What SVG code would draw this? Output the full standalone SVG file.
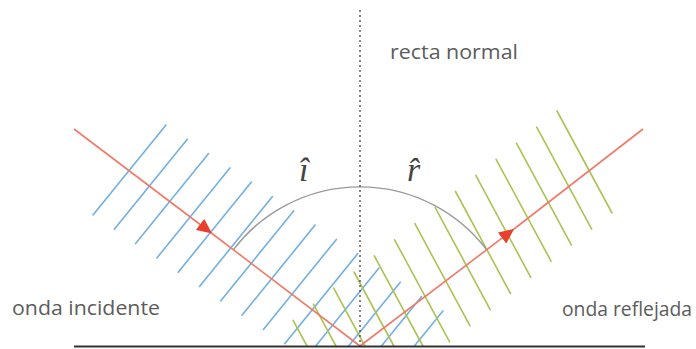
<svg xmlns="http://www.w3.org/2000/svg" width="696" height="349" viewBox="0 0 696 349">
<style>
.bl{stroke:#72b0e0;stroke-width:1.6;fill:none;stroke-linecap:round}
.gr{stroke:#a9c452;stroke-width:1.6;fill:none;stroke-linecap:round}
.ray{stroke:#f07a68;stroke-width:1.6;fill:none}
.lbl{font-family:"Open Sans","Liberation Sans",sans-serif;font-size:20px;fill:#5c5c5c}
.ang{font-family:"Liberation Serif","DejaVu Serif",serif;font-style:italic;font-size:34px;fill:#444}
</style>
<defs>
<marker id="ah" markerUnits="userSpaceOnUse" markerWidth="16" markerHeight="14" refX="15" refY="7" orient="auto">
<path d="M0,0 L15,7 L0,14 z" fill="#e8402c"/>
</marker>
</defs>
<rect width="696" height="349" fill="#fff"/>
<g id="incident-wave">
<line class="bl" x1="166" y1="125" x2="93" y2="215"/>
<line class="bl" x1="187.3" y1="139.3" x2="114.3" y2="229.3"/>
<line class="bl" x1="208.6" y1="153.6" x2="135.6" y2="243.6"/>
<line class="bl" x1="229.9" y1="167.9" x2="156.9" y2="257.9"/>
<line class="bl" x1="251.2" y1="182.2" x2="178.2" y2="272.2"/>
<line class="bl" x1="272.5" y1="196.5" x2="199.5" y2="286.5"/>
<line class="bl" x1="293.8" y1="210.8" x2="220.8" y2="300.8"/>
<line class="bl" x1="315.1" y1="225.1" x2="242.1" y2="315.1"/>
<line class="bl" x1="336.4" y1="239.4" x2="263.4" y2="329.4"/>
<line class="bl" x1="357.7" y1="253.7" x2="284.7" y2="343.7"/>
<line class="bl" x1="379" y1="268" x2="315.7" y2="346"/>
<line class="bl" x1="400.3" y1="282.3" x2="348.6" y2="346"/>
<line class="bl" x1="421.6" y1="296.6" x2="381.5" y2="346"/>
<line class="bl" x1="442.9" y1="310.9" x2="414.4" y2="346"/>
</g>
<g id="reflected-wave">
<line class="gr" x1="557" y1="111" x2="612" y2="213"/>
<line class="gr" x1="536.7" y1="127.1" x2="591.7" y2="229.1"/>
<line class="gr" x1="516.4" y1="143.2" x2="571.4" y2="245.2"/>
<line class="gr" x1="496.1" y1="159.3" x2="551.1" y2="261.3"/>
<line class="gr" x1="475.8" y1="175.4" x2="530.8" y2="277.4"/>
<line class="gr" x1="455.5" y1="191.5" x2="510.5" y2="293.5"/>
<line class="gr" x1="435.2" y1="207.6" x2="490.2" y2="309.6"/>
<line class="gr" x1="414.9" y1="223.7" x2="469.9" y2="325.7"/>
<line class="gr" x1="394.6" y1="239.8" x2="449.6" y2="341.8"/>
<line class="gr" x1="374.3" y1="255.9" x2="422.9" y2="346"/>
<line class="gr" x1="354" y1="272" x2="393.9" y2="346"/>
<line class="gr" x1="333.7" y1="288.1" x2="364.9" y2="346"/>
<line class="gr" x1="313.4" y1="304.2" x2="335.9" y2="346"/>
<line class="gr" x1="293.1" y1="320.3" x2="307" y2="346"/>
</g>
<g id="angle-arc">
<path d="M233.3,249.8 A159,159 0 0,1 486.7,249.8" fill="none" stroke="#9a9a9a" stroke-width="1.4"/>
</g>
<g id="connectors">
<path class="ray" d="M74,129 L212,233.5" marker-end="url(#ah)"/>
<path class="ray" d="M212,233.5 L360,346"/>
<path class="ray" d="M360,346 L514,229" marker-end="url(#ah)"/>
<path class="ray" d="M514,229 L643,129"/>
</g>
<g id="normal">
<line x1="360" y1="10" x2="360" y2="346" stroke="#444" stroke-width="1.3" stroke-dasharray="2 3"/>
</g>
<g id="surface">
<line x1="74" y1="346.5" x2="645" y2="346.5" stroke="#333" stroke-width="2"/>
</g>
<g id="labels">
<text class="lbl" x="390" y="59" textLength="128" lengthAdjust="spacingAndGlyphs">recta normal</text>
<text class="lbl" x="12" y="315" textLength="148" lengthAdjust="spacingAndGlyphs">onda incidente</text>
<text class="lbl" x="562" y="316" textLength="130" lengthAdjust="spacingAndGlyphs">onda reflejada</text>
<text class="ang" x="299" y="181">î</text>
<text class="ang" x="407" y="181">r&#x302;</text>
</g>
</svg>
